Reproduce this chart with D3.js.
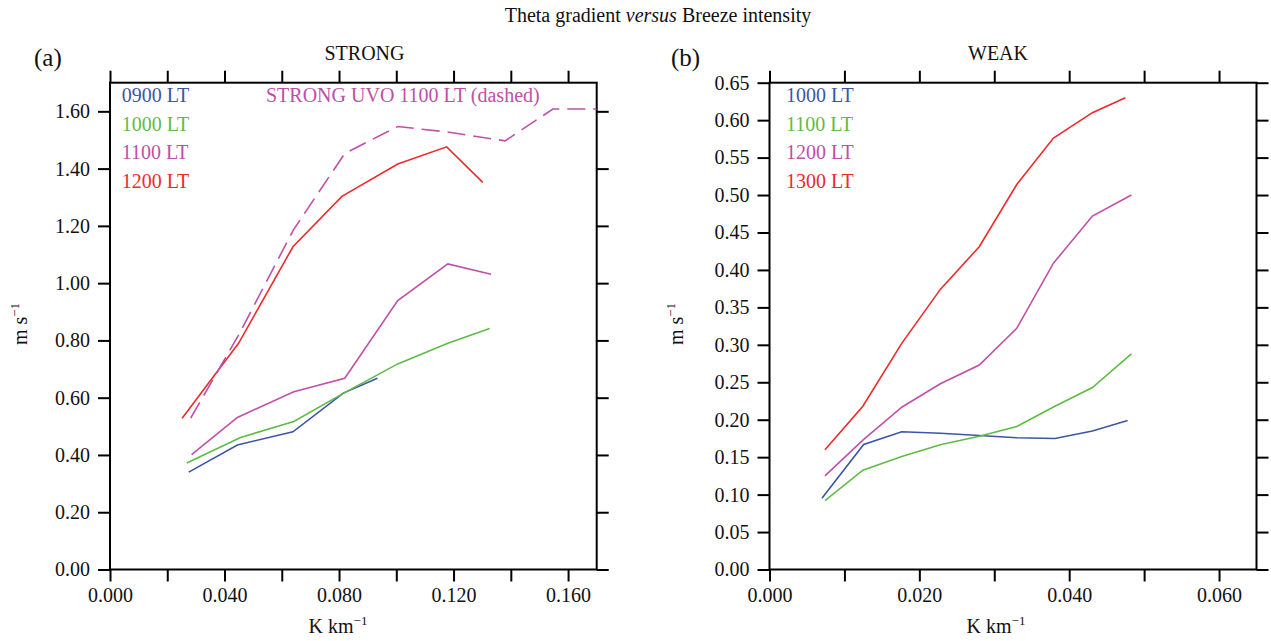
<!DOCTYPE html>
<html>
<head>
<meta charset="utf-8">
<script src="https://cdn.jsdelivr.net/npm/d3@7"></script>
<style>
  body { margin: 0; background: #fff; }
  text { font-family: "Liberation Serif", "Times New Roman", serif; fill: #111; }
</style>
</head>
<body>
<div id="chart"></div>
<script>
// ---- data ----
// (a) STRONG
const strong0900X = [0.0275, 0.0445, 0.0639, 0.0815, 0.0934]
const strong0900Y = [0.340, 0.435, 0.481, 0.616, 0.668]
const strong1000X = [0.0268, 0.0456, 0.0642, 0.0815, 0.1005, 0.118, 0.1326]
const strong1000Y = [0.372, 0.461, 0.517, 0.615, 0.718, 0.790, 0.842]
const strong1100X = [0.0285, 0.0445, 0.0642, 0.082, 0.1005, 0.118, 0.1331]
const strong1100Y = [0.401, 0.531, 0.621, 0.668, 0.939, 1.067, 1.031]
const strong1200X = [0.0252, 0.0449, 0.0639, 0.081, 0.1005, 0.1176, 0.1302]
const strong1200Y = [0.528, 0.790, 1.127, 1.303, 1.416, 1.476, 1.352]
const uvo1100X = [0.0282, 0.045, 0.064, 0.082, 0.1005, 0.1176, 0.138, 0.1547, 0.17]
const uvo1100Y = [0.529, 0.82, 1.185, 1.453, 1.547, 1.528, 1.497, 1.608, 1.608]

// (b) WEAK
const weak1000X = [0.0070, 0.01257, 0.01765, 0.0228, 0.028, 0.033, 0.0381, 0.0431, 0.0478]
const weak1000Y = [0.095, 0.167, 0.184, 0.182, 0.179, 0.176, 0.175, 0.185, 0.199]
const weak1100X = [0.0074, 0.01246, 0.01765, 0.0228, 0.028, 0.033, 0.0381, 0.0431, 0.0483]
const weak1100Y = [0.092, 0.1326, 0.151, 0.1665, 0.178, 0.191, 0.218, 0.243, 0.288]
const weak1200X = [0.0074, 0.0125, 0.0177, 0.0228, 0.028, 0.033, 0.0379, 0.0431, 0.0483]
const weak1200Y = [0.125, 0.173, 0.217, 0.248, 0.273, 0.322, 0.409, 0.472, 0.500]
const weak1300X = [0.0074, 0.01246, 0.01765, 0.0228, 0.028, 0.033, 0.0379, 0.0431, 0.0475]
const weak1300Y = [0.160, 0.218, 0.302, 0.374, 0.431, 0.514, 0.576, 0.610, 0.630]

// ticks
const strongXTicks = [0, 0.02, 0.04, 0.06, 0.08, 0.10, 0.12, 0.14, 0.16]
const strongXLabels = [0, 0.04, 0.08, 0.12, 0.16]
const strongYTicks = [0, 0.2, 0.4, 0.6, 0.8, 1.0, 1.2, 1.4, 1.6]
const weakXTicks = [0, 0.01, 0.02, 0.03, 0.04, 0.05, 0.06]
const weakXLabels = [0, 0.02, 0.04, 0.06]
const weakYTicks = [0, 0.05, 0.10, 0.15, 0.20, 0.25, 0.30, 0.35, 0.40, 0.45, 0.50, 0.55, 0.60, 0.65]

const blue = "#3c56a6", green = "#5fbb46", magenta = "#c04fa8", red = "#ee2a2a"
const serif = '"Liberation Serif", "Times New Roman", serif'

const strongSeries = [
  {name: "0900 LT", xs: strong0900X, ys: strong0900Y, color: blue},
  {name: "1000 LT", xs: strong1000X, ys: strong1000Y, color: green},
  {name: "1100 LT", xs: strong1100X, ys: strong1100Y, color: magenta},
  {name: "1200 LT", xs: strong1200X, ys: strong1200Y, color: red},
  {name: null, xs: uvo1100X, ys: uvo1100Y, color: magenta, dashed: true}
]
const weakSeries = [
  {name: "1000 LT", xs: weak1000X, ys: weak1000Y, color: blue},
  {name: "1100 LT", xs: weak1100X, ys: weak1100Y, color: green},
  {name: "1200 LT", xs: weak1200X, ys: weak1200Y, color: magenta},
  {name: "1300 LT", xs: weak1300X, ys: weak1300Y, color: red}
]

const W = 1271, H = 641
const svg = d3.select("#chart").append("svg")
  .attr("width", W).attr("height", H)
  .attr("font-family", serif)

svg.append("text")
  .attr("x", 658).attr("y", 22)
  .attr("text-anchor", "middle")
  .style("font-size", "20px")
  .html('Theta gradient <tspan font-style="italic">versus</tspan> Breeze intensity')

function panel(opt) {
  const left = opt.left, top = 82.7, width = opt.width, height = 486.8
  const g = svg.append("g").attr("transform", `translate(${left},${top})`)

  const x = d3.scaleLinear().domain(opt.xDomain).range([0, width])
  const y = d3.scaleLinear().domain(opt.yDomain).range([height, 0])

  const fmtX = d3.format(".3f"), fmtY = d3.format(".2f")
  const isLabel = v => opt.xLabels.some(l => Math.abs(l - v) < 1e-9)

  // bottom axis
  g.append("g").attr("class", "axis")
    .attr("transform", `translate(0,${height})`)
    .call(d3.axisBottom(x).tickValues(opt.xTicks).tickSize(12).tickSizeOuter(0).tickPadding(6)
      .tickFormat(d => isLabel(d) ? fmtX(d) : ""))
  // top axis
  g.append("g").attr("class", "axis")
    .call(d3.axisTop(x).tickValues(opt.xTicks).tickSize(12).tickSizeOuter(0).tickFormat(""))
  // left axis
  g.append("g").attr("class", "axis")
    .call(d3.axisLeft(y).tickValues(opt.yTicks).tickSize(12).tickSizeOuter(0).tickPadding(8)
      .tickFormat(fmtY))
  // right axis
  g.append("g").attr("class", "axis")
    .attr("transform", `translate(${width},0)`)
    .call(d3.axisRight(y).tickValues(opt.yTicks).tickSize(12).tickSizeOuter(0).tickFormat(""))

  g.selectAll(".axis").attr("font-family", serif).attr("font-size", 20)
  g.selectAll(".axis .domain").remove()
  g.selectAll(".axis line").attr("stroke", "#000").attr("stroke-width", 2)
  g.selectAll(".axis text").style("font-size", "20px").attr("fill", "#111")
    .style("font-family", serif)

  // frame
  g.append("rect")
    .attr("x", 0).attr("y", 0).attr("width", width).attr("height", height)
    .attr("fill", "none").attr("stroke", "#000").attr("stroke-width", 2)

  // lines
  const line = d3.line().x(d => x(d[0])).y(d => y(d[1]))
  g.append("clipPath").attr("id", "clip" + opt.id)
    .append("rect").attr("width", width).attr("height", height)
  g.append("g").attr("clip-path", `url(#clip${opt.id})`)
    .selectAll("path")
    .data(opt.series)
    .join("path")
      .attr("d", s => line(d3.zip(s.xs, s.ys)))
      .attr("fill", "none")
      .attr("stroke", s => s.color)
      .attr("stroke-width", 1.6)
      .attr("stroke-dasharray", s => s.dashed ? "18,8" : null)

  // legend
  const named = opt.series.filter(s => s.name)
  g.selectAll(".leg")
    .data(named)
    .join("text")
      .attr("x", opt.legX)
      .attr("y", (d, i) => 19 + i * 28.9)
      .style("fill", d => d.color)
      .style("font-size", "20px")
      .text(d => d.name)

  if (opt.note) {
    g.append("text")
      .attr("x", opt.note.x).attr("y", 19)
      .style("fill", magenta)
      .style("font-size", "20px")
      .text(opt.note.text)
  }

  // titles and axis labels
  svg.append("text")
    .attr("x", opt.titleX).attr("y", 60)
    .attr("text-anchor", "middle")
    .style("font-size", "20px")
    .text(opt.title)
  svg.append("text")
    .attr("x", opt.tagX).attr("y", 66)
    .style("font-size", "25px")
    .text(opt.tag)
  svg.append("text")
    .attr("transform", `translate(${opt.yLabX},324) rotate(-90)`)
    .attr("text-anchor", "middle")
    .style("font-size", "20px")
    .html('m s<tspan dy="-8" font-size="13">\u22121</tspan>')
  svg.append("text")
    .attr("x", opt.xLabX).attr("y", 633)
    .attr("text-anchor", "middle")
    .style("font-size", "20px")
    .html('K km<tspan dy="-8" font-size="13">\u22121</tspan>')
}

panel({
  id: "a", left: 110, width: 486.7,
  xDomain: [0, 0.17], yDomain: [0, 1.7],
  xTicks: strongXTicks, xLabels: strongXLabels, yTicks: strongYTicks,
  series: strongSeries, legX: 11.7,
  note: {x: 156, text: "STRONG UVO 1100 LT (dashed)"},
  title: "STRONG", titleX: 364.5, tag: "(a)", tagX: 34,
  yLabX: 27, xLabX: 338
})

panel({
  id: "b", left: 769.5, width: 487,
  xDomain: [0, 0.065], yDomain: [0, 0.65],
  xTicks: weakXTicks, xLabels: weakXLabels, yTicks: weakYTicks,
  series: weakSeries, legX: 16.5,
  title: "WEAK", titleX: 998, tag: "(b)", tagX: 671,
  yLabX: 683, xLabX: 996
})
</script>
</body>
</html>
